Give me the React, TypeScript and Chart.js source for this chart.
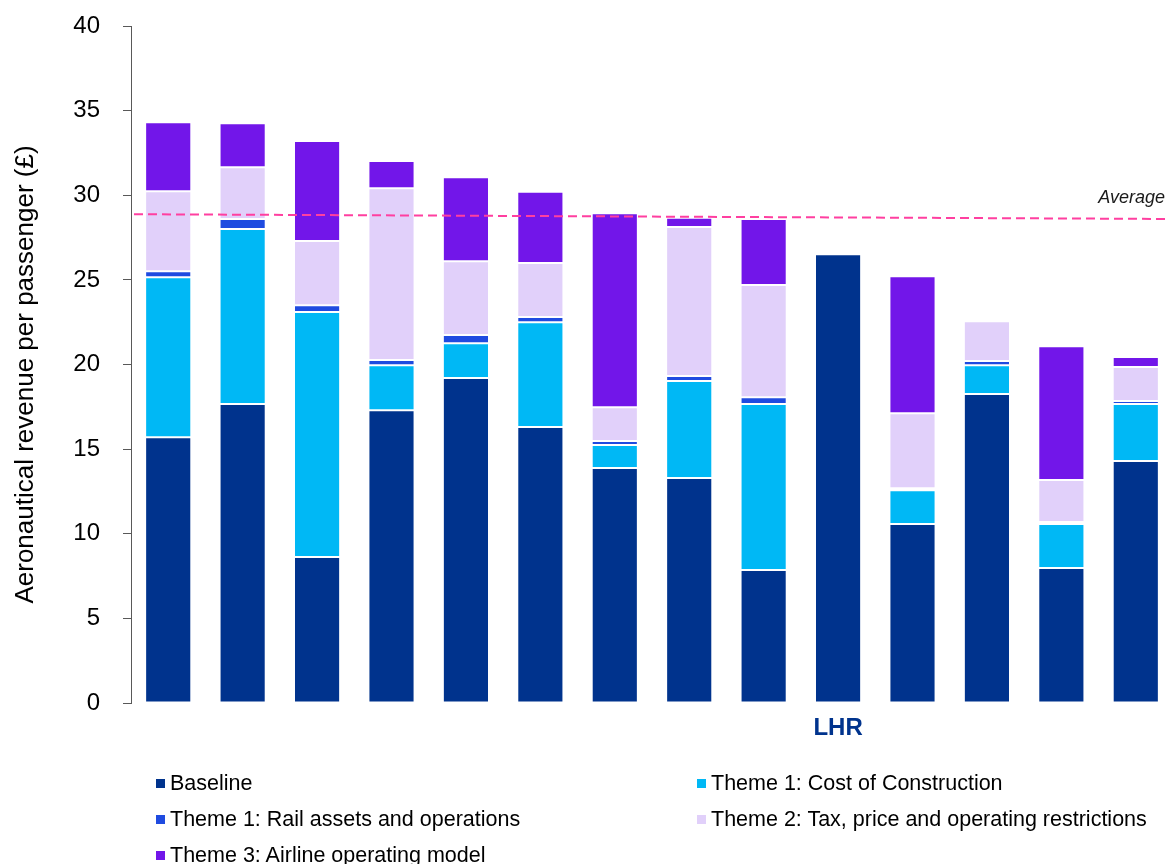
import React, { useEffect, useRef } from 'react';
import { Chart, registerables } from 'chart.js';

Chart.register(...registerables);

const FONT = "'Liberation Sans', Arial, Helvetica, sans-serif";

// Airports along the axis; only Heathrow is named
const categories = ['', '', '', '', '', '', '', '', '', 'LHR', '', '', '', ''];

// Aeronautical revenue per passenger (£), by component
const baseline = [15.7, 17.66, 8.62, 17.3, 19.2, 16.3, 13.88, 13.29, 7.86, 26.52, 10.57, 18.25, 7.97, 14.3];
const costOfConstruction = [9.45, 10.34, 14.48, 2.66, 2.06, 6.2, 1.36, 5.73, 9.8, null, 2.0, 1.71, 2.6, 3.36];
const railAssets = [0.36, 0.6, 0.4, 0.3, 0.48, 0.3, 0.24, 0.3, 0.41, null, 0.12, 0.24, 0.12, 0.18];
const taxPriceRestrictions = [4.72, 3.06, 3.8, 10.16, 4.36, 3.2, 2.0, 8.8, 6.62, null, 4.43, 2.36, 2.48, 2.01];
const airlineModel = [4.08, 2.6, 5.9, 1.6, 4.97, 4.2, 11.46, 0.55, 3.9, null, 8.09, -0.1, 7.91, 0.59];

const seriesLabels = [
  'Baseline',
  'Theme 1: Cost of Construction',
  'Theme 1: Rail assets and operations',
  'Theme 2: Tax, price and operating restrictions',
  'Theme 3: Airline operating model',
];
const seriesColors = ['#00338D', '#00B8F5', '#1F4BE0', '#E1D0FA', '#7216E9'];
const seriesData = [baseline, costOfConstruction, railAssets, taxPriceRestrictions, airlineModel];

// Average reference line (slightly sloped): values at its two ends
const avgLabel = 'Average';
const avgStart = 28.88;
const avgEnd = 28.6;

const yTitle = 'Aeronautical revenue per passenger (£)';

const overlayPlugin = {
  id: 'overlayText',
  afterDatasetsDraw(chart: any) {
    const { ctx, chartArea, scales } = chart;
    const x0 = chartArea.left + 3;
    const x1 = chartArea.right - 8;
    const y0 = scales.y.getPixelForValue(avgStart);
    const y1 = scales.y.getPixelForValue(avgEnd);
    ctx.save();
    // dashed average line
    ctx.strokeStyle = '#FF3FA0';
    ctx.lineWidth = 2;
    ctx.setLineDash([9, 5]);
    ctx.beginPath();
    ctx.moveTo(x0, y0);
    ctx.lineTo(x1, y1);
    ctx.stroke();
    ctx.setLineDash([]);
    // "Average" caption above its right end
    ctx.font = `italic 18px ${FONT}`;
    ctx.fillStyle = '#1a1a1a';
    ctx.textAlign = 'right';
    ctx.textBaseline = 'middle';
    ctx.fillText(avgLabel, x1, y1 - 21);
    // rotated y-axis title
    ctx.translate(26, (chartArea.top + chartArea.bottom) / 2 + 10);
    ctx.rotate(-Math.PI / 2);
    ctx.font = `26px ${FONT}`;
    ctx.fillStyle = '#000';
    ctx.textAlign = 'center';
    ctx.textBaseline = 'middle';
    ctx.fillText(yTitle, 0, 0);
    ctx.restore();
  },
};

export default function App() {
  const ref = useRef<HTMLCanvasElement>(null);

  useEffect(() => {
    document.body.style.margin = '0';
    document.body.style.overflow = 'hidden';
    const chart = new Chart(ref.current!, {
      type: 'bar',
      data: {
        labels: categories,
        datasets: seriesData.map((data, i) => ({
          label: seriesLabels[i],
          data,
          backgroundColor: seriesColors[i],
          borderColor: 'rgba(255,255,255,0.8)',
          borderWidth: 1,
          borderSkipped: false,
          categoryPercentage: 1,
          barPercentage: 0.62,
          clip: false as any,
        })),
      },
      options: {
        animation: false,
        responsive: false,
        maintainAspectRatio: false,
        layout: { padding: { left: 0, top: 26, right: 7, bottom: 111 } },
        plugins: { legend: { display: false }, tooltip: { enabled: false } },
        scales: {
          x: {
            stacked: true,
            grid: { display: false, drawTicks: false },
            border: { display: false },
            ticks: {
              font: { family: FONT, size: 24, weight: 'bold' },
              color: '#00338D',
              padding: 11,
              maxRotation: 0,
              autoSkip: false,
            },
            afterFit: (s: any) => {
              s.height = 50;
            },
          },
          y: {
            stacked: true,
            min: 0,
            max: 40,
            ticks: {
              stepSize: 5,
              font: { family: FONT, size: 24 },
              color: '#000',
              padding: 23,
            },
            grid: {
              drawOnChartArea: false,
              drawTicks: true,
              tickLength: 8,
              color: '#595959',
            },
            border: { display: true, color: '#595959', width: 1 },
            afterFit: (s: any) => {
              s.width = 131;
              s.paddingTop = 0;
              s.paddingBottom = 0;
            },
          },
        } as any,
      },
      plugins: [overlayPlugin],
    });
    return () => chart.destroy();
  }, []);

  const legendRows = [
    { i: 0, left: 156, top: 783 },
    { i: 1, left: 697, top: 783 },
    { i: 2, left: 156, top: 819 },
    { i: 3, left: 697, top: 819 },
    { i: 4, left: 156, top: 855 },
  ];

  return (
    <div style={{ position: 'absolute', left: 0, top: 0, width: 1168, height: 864, overflow: 'hidden', background: '#fff' }}>
      <canvas ref={ref} width={1180} height={864} style={{ display: 'block', width: 1180, height: 864 }} />
      {legendRows.map(({ i, left, top }) => (
        <div
          key={i}
          style={{
            position: 'absolute',
            left,
            top: top - 13,
            height: 26,
            display: 'flex',
            alignItems: 'center',
            fontFamily: FONT,
            fontSize: 21.5,
            color: '#000',
            whiteSpace: 'nowrap',
          }}
        >
          <span style={{ width: 9, height: 9, background: seriesColors[i], marginRight: 5, display: 'inline-block' }} />
          <span>{seriesLabels[i]}</span>
        </div>
      ))}
    </div>
  );
}
